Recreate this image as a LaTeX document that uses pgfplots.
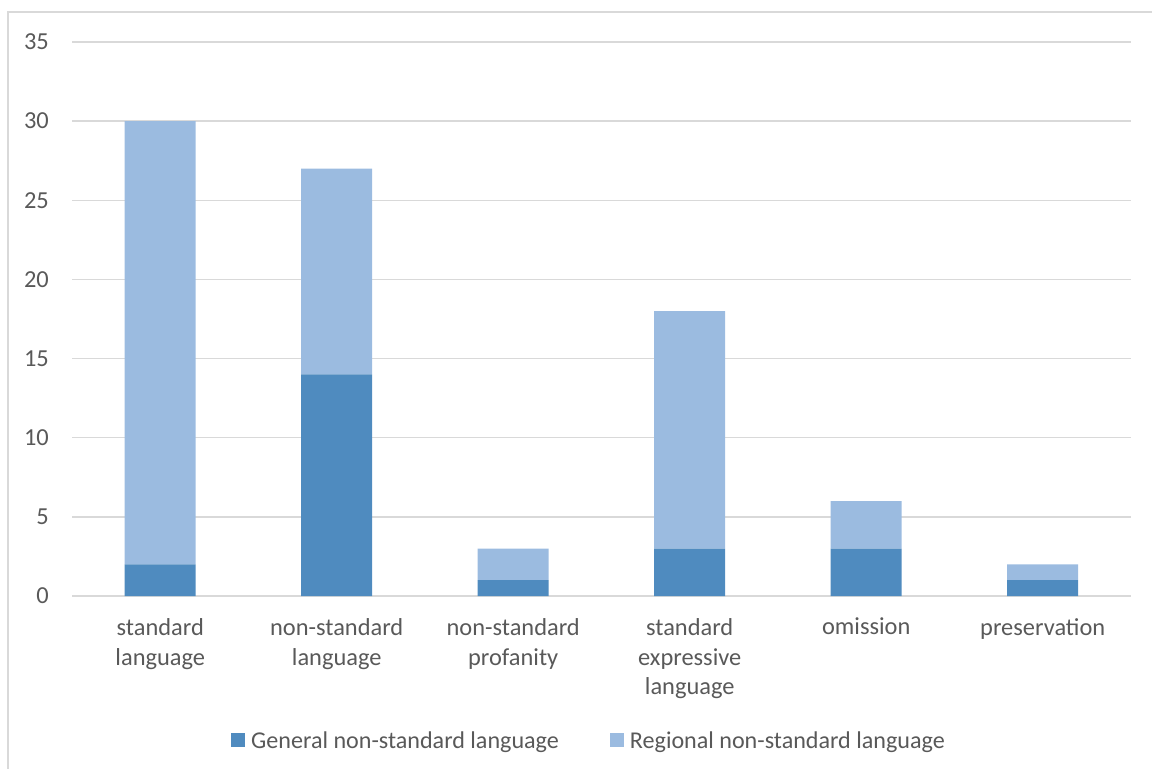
\documentclass[border=0pt]{standalone}
\usepackage{fontspec}
\setmainfont{Carlito}
\usepackage{pgfplots}
\pgfplotsset{compat=1.18}
\definecolor{darkb}{HTML}{4F8BBF}
\definecolor{lightb}{HTML}{9BBBE0}
\definecolor{gridc}{HTML}{D9D9D9}
\definecolor{txt}{HTML}{595959}
\begin{document}
\begin{tikzpicture}
\path[use as bounding box] (0,0) rectangle (1152bp,769bp);
\draw[gridc, line width=1.5bp] (8bp,-5bp) -- (8bp,757bp) -- (1160bp,757bp);
\begin{axis}[
  at={(72bp,173bp)}, anchor=south west,
  scale only axis, width=1059bp, height=554bp,
  ybar stacked, bar width=71bp,
  xmin=-0.5, xmax=5.5, ymin=0, ymax=35,
  ytick={0,5,...,35},
  xtick=data,
  xticklabels={{standard\\language},{non-standard\\language},{non-standard\\profanity},{standard\\expressive\\language},{omission},{preservation}},
  x tick label style={align=center, font=\fontsize{24.5}{30}\selectfont, text=txt, inner sep=0pt, yshift=-22bp},
  y tick label style={font=\fontsize{24.5}{30}\selectfont, text=txt, inner sep=0pt, xshift=-23bp},
  /pgf/number format/assume math mode=true,
  major tick length=0pt,
  axis line style={draw=none},
  ymajorgrids, grid style={gridc, line width=1.5bp},
  extra y ticks={0}, extra y tick labels={},
  extra y tick style={grid style={gridc, line width=2bp}},
  legend style={at={(0.4873,-0.26)}, anchor=center, draw=none, font=\fontsize{24.2}{29}\selectfont, text=txt, legend columns=2, /tikz/every even column/.append style={column sep=51bp}, /tikz/every odd column/.append style={column sep=6bp}, inner sep=0pt, nodes={inner sep=0pt, text depth=0pt}},
  legend image code/.code={\fill[#1] (0bp,-7bp) rectangle (14bp,7bp);},
  legend cell align=left,
]
\addplot[fill=darkb, draw=none] coordinates {(0,2) (1,14) (2,1) (3,3) (4,3) (5,1)};
\addplot[fill=lightb, draw=none] coordinates {(0,28) (1,13) (2,2) (3,15) (4,3) (5,1)};
\legend{General non-standard language, Regional non-standard language}
\end{axis}
\end{tikzpicture}
\end{document}
